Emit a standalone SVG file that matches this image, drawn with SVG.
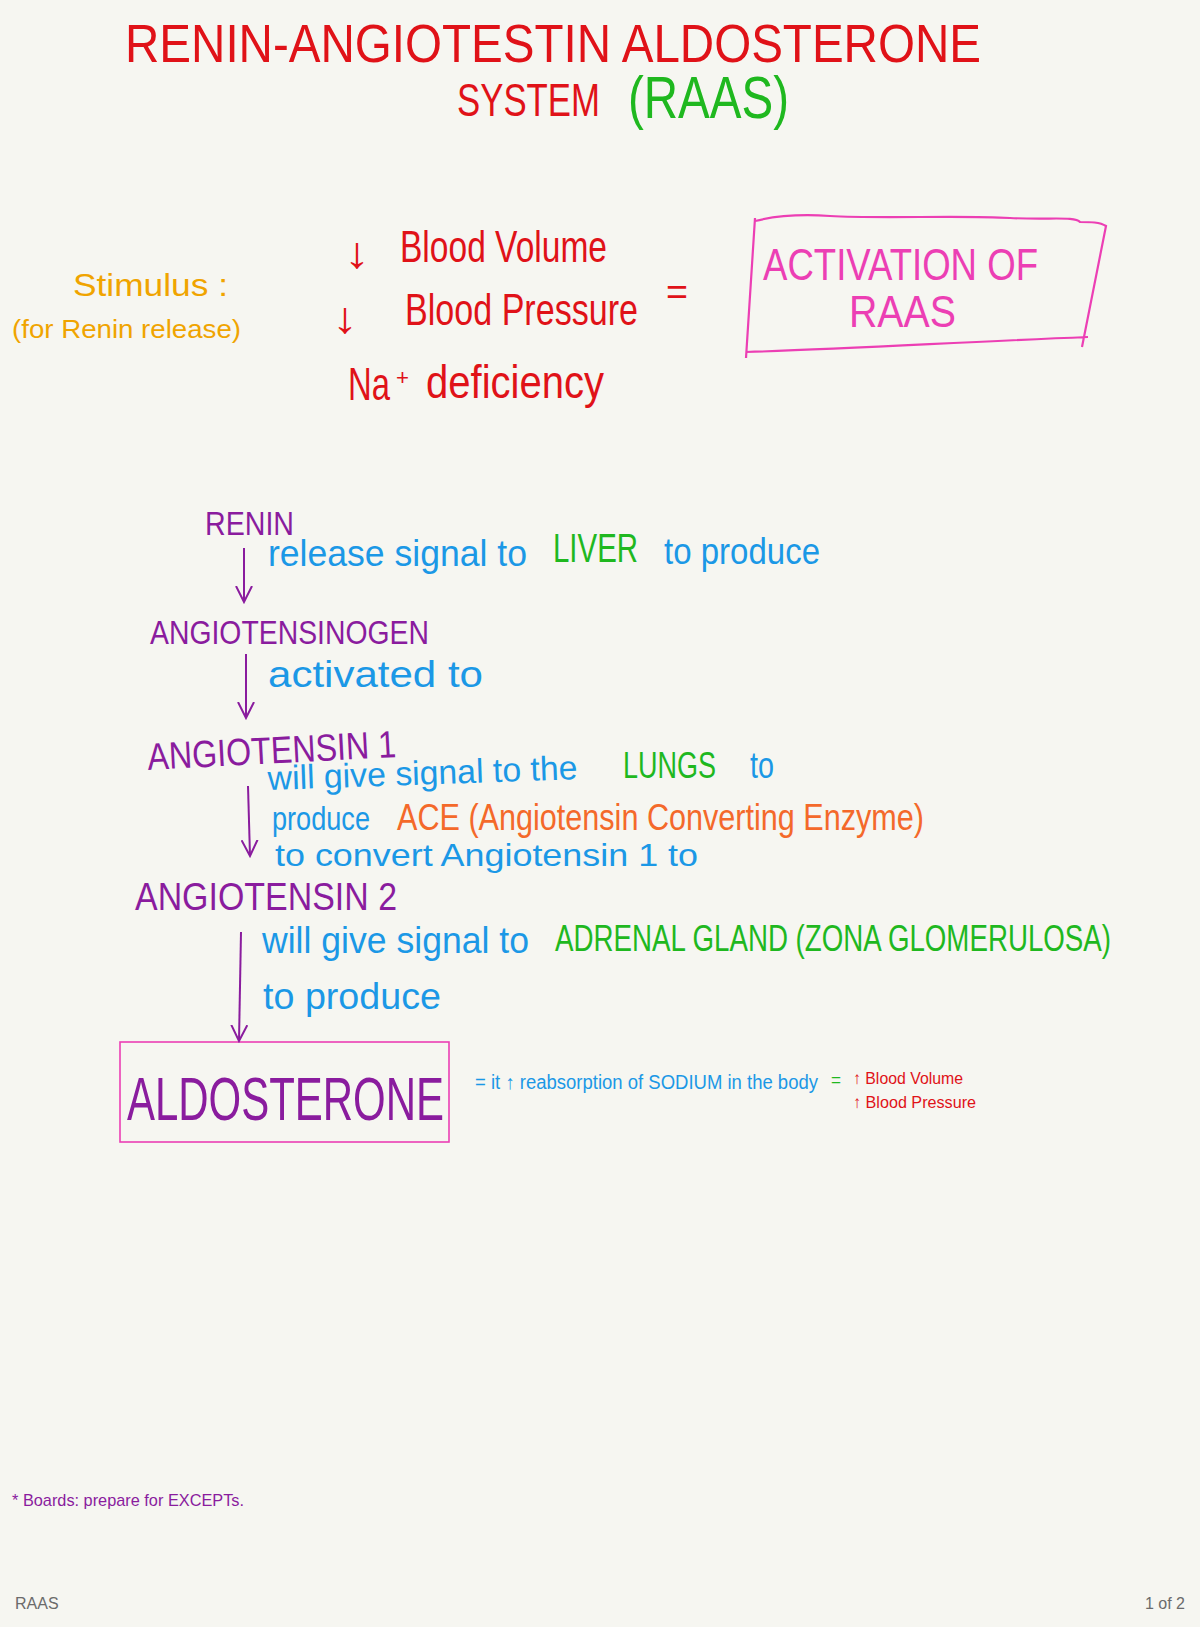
<svg xmlns="http://www.w3.org/2000/svg" width="1200" height="1627" viewBox="0 0 1200 1627">
<style>
text{font-family:"Liberation Sans","DejaVu Sans",sans-serif;}
.red{fill:#e01218}.green{fill:#1fb81f}.yel{fill:#f0a400}.pink{fill:#ec3fb4}
.pur{fill:#8a1c9e}.blue{fill:#1b98e6}.org{fill:#f4692a}.foot{fill:#6b6b6b;font-size:16px}
.conn{stroke:#8a1c9e;stroke-width:2;fill:none}
</style>
<defs>
<marker id="v" viewBox="0 0 18 18" refX="16" refY="9" markerWidth="18" markerHeight="18" markerUnits="userSpaceOnUse" orient="auto">
<path d="M0,1 L16,9 L0,17" fill="none" stroke="#8a1c9e" stroke-width="2"/>
</marker>
</defs>
<rect width="1200" height="1627" fill="#f6f6f1"/>

<g id="title">
<text class="red" x="125" y="62" font-size="54" textLength="856" lengthAdjust="spacingAndGlyphs">RENIN-ANGIOTESTIN ALDOSTERONE</text>
<text class="red" x="457" y="116" font-size="46" textLength="143" lengthAdjust="spacingAndGlyphs">SYSTEM</text>
<text class="green" x="628" y="118" font-size="60" textLength="161" lengthAdjust="spacingAndGlyphs">(RAAS)</text>
</g>

<g id="stimulus">
<text class="yel" x="73" y="296" font-size="32" textLength="155" lengthAdjust="spacingAndGlyphs">Stimulus :</text>
<text class="yel" x="12" y="338" font-size="26" textLength="229" lengthAdjust="spacingAndGlyphs">(for Renin release)</text>
</g>

<g id="causes">
<text class="red" x="344" y="268" font-size="44" textLength="26" lengthAdjust="spacingAndGlyphs">↓</text>
<text class="red" x="400" y="262" font-size="44" textLength="207" lengthAdjust="spacingAndGlyphs">Blood Volume</text>
<text class="red" x="332" y="333" font-size="44" textLength="26" lengthAdjust="spacingAndGlyphs">↓</text>
<text class="red" x="405" y="325" font-size="44" textLength="233" lengthAdjust="spacingAndGlyphs">Blood Pressure</text>
<text class="red" x="348" y="400" font-size="46" textLength="42" lengthAdjust="spacingAndGlyphs">Na</text>
<text class="red" x="396" y="385" font-size="22" textLength="13" lengthAdjust="spacingAndGlyphs">+</text>
<text class="red" x="426" y="398" font-size="46" textLength="178" lengthAdjust="spacingAndGlyphs">deficiency</text>
<text class="red" x="666" y="304" font-size="36" textLength="22" lengthAdjust="spacingAndGlyphs">=</text>
</g>

<g id="activation">
<path d="M755,221 C775,216 800,214 830,216 C880,219 960,215 1010,218 C1050,220 1075,216 1080,222 C1090,222 1100,222 1106,226 L1082,347 M1088,337 C960,342 850,349 746,352 M755,218 L746,358" fill="none" stroke="#ec3fb4" stroke-width="2.2"/>
<text class="pink" x="763" y="280" font-size="44" textLength="275" lengthAdjust="spacingAndGlyphs">ACTIVATION  OF</text>
<text class="pink" x="849" y="327" font-size="44" textLength="107" lengthAdjust="spacingAndGlyphs">RAAS</text>
</g>

<g id="renin">
<text class="pur" x="205" y="535" font-size="34" textLength="89" lengthAdjust="spacingAndGlyphs">RENIN</text>
</g>
<g id="label-renin">
<text class="blue" x="268" y="566" font-size="36" textLength="259" lengthAdjust="spacingAndGlyphs">release signal to</text>
<text class="green" x="553" y="562" font-size="40" textLength="85" lengthAdjust="spacingAndGlyphs">LIVER</text>
<text class="blue" x="664" y="564" font-size="36" textLength="156" lengthAdjust="spacingAndGlyphs">to produce</text>
</g>

<g id="angiotensinogen">
<text class="pur" x="150" y="644" font-size="34" textLength="279" lengthAdjust="spacingAndGlyphs">ANGIOTENSINOGEN</text>
</g>
<g id="label-angiotensinogen">
<text class="blue" x="268" y="687" font-size="36" textLength="215" lengthAdjust="spacingAndGlyphs">activated to</text>
</g>

<g id="angiotensin1">
<text class="pur" x="148" y="770" font-size="38" textLength="249" lengthAdjust="spacingAndGlyphs" transform="rotate(-3 148 770)">ANGIOTENSIN 1</text>
</g>
<g id="label-angiotensin1">
<text class="blue" x="268" y="790" font-size="34" textLength="310" lengthAdjust="spacingAndGlyphs" transform="rotate(-2 268 790)">will give signal to the</text>
<text class="green" x="623" y="778" font-size="36" textLength="93" lengthAdjust="spacingAndGlyphs">LUNGS</text>
<text class="blue" x="750" y="778" font-size="36" textLength="24" lengthAdjust="spacingAndGlyphs">to</text>
<text class="blue" x="272" y="830" font-size="34" textLength="98" lengthAdjust="spacingAndGlyphs">produce</text>
<text class="org" x="397" y="830" font-size="36" textLength="527" lengthAdjust="spacingAndGlyphs">ACE (Angiotensin Converting Enzyme)</text>
<text class="blue" x="275" y="866" font-size="32" textLength="423" lengthAdjust="spacingAndGlyphs">to convert  Angiotensin 1  to</text>
</g>

<g id="angiotensin2">
<text class="pur" x="135" y="910" font-size="38" textLength="262" lengthAdjust="spacingAndGlyphs">ANGIOTENSIN 2</text>
</g>
<g id="label-angiotensin2">
<text class="blue" x="262" y="953" font-size="36" textLength="267" lengthAdjust="spacingAndGlyphs">will give signal to</text>
<text class="green" x="555" y="951" font-size="36" textLength="556" lengthAdjust="spacingAndGlyphs">ADRENAL GLAND (ZONA GLOMERULOSA)</text>
<text class="blue" x="263" y="1009" font-size="36" textLength="178" lengthAdjust="spacingAndGlyphs">to produce</text>
</g>

<g id="aldosterone">
<rect x="120" y="1042" width="329" height="100" fill="none" stroke="#ec3fb4" stroke-width="1.6"/>
<text class="pur" x="127" y="1120" font-size="62" textLength="317" lengthAdjust="spacingAndGlyphs">ALDOSTERONE</text>
</g>
<g id="effect">
<text class="blue" x="475" y="1089" font-size="20" textLength="343" lengthAdjust="spacingAndGlyphs">= it ↑ reabsorption of SODIUM in the body</text>
<text class="green" x="831" y="1086" font-size="18" textLength="10" lengthAdjust="spacingAndGlyphs">=</text>
<text class="red" x="853" y="1084" font-size="17" textLength="110" lengthAdjust="spacingAndGlyphs">↑ Blood Volume</text>
<text class="red" x="853" y="1108" font-size="17" textLength="123" lengthAdjust="spacingAndGlyphs">↑ Blood Pressure</text>
</g>

<g id="note">
<text class="pur" x="12" y="1506" font-size="17" textLength="232" lengthAdjust="spacingAndGlyphs">* Boards:  prepare for  EXCEPTs.</text>
</g>

<g id="connectors">
<line class="conn" x1="244" y1="548" x2="244" y2="602" marker-end="url(#v)"/>
<line class="conn" x1="246" y1="654" x2="246" y2="718" marker-end="url(#v)"/>
<line class="conn" x1="248" y1="786" x2="250" y2="856" marker-end="url(#v)"/>
<line class="conn" x1="241" y1="932" x2="239" y2="1041" marker-end="url(#v)"/>
</g>

<g id="footer">
<text class="foot" x="15" y="1609">RAAS</text>
<text class="foot" x="1185" y="1609" text-anchor="end">1 of 2</text>
</g>
</svg>
